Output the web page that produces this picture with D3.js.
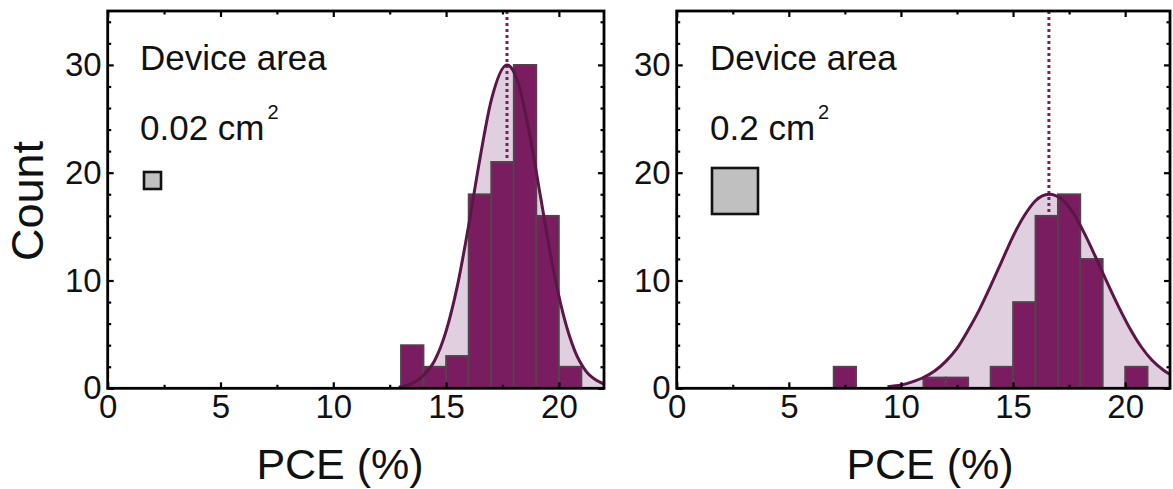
<!DOCTYPE html>
<html><head><meta charset="utf-8">
<script src="https://cdn.jsdelivr.net/npm/d3@7"></script>
<style>
body{margin:0;background:#fff}
svg{display:block;font-family:"Liberation Sans",Arial,sans-serif}
</style>
</head><body>
<svg id="chart" width="1173" height="489"></svg>
<script>
// Axis ticks
const xTicks = [0, 5, 10, 15, 20];
const xMinor = [2.5, 7.5, 12.5, 17.5];
const yTicks = [0, 10, 20, 30];
const yMinor = [2, 4, 6, 8, 12, 14, 16, 18, 22, 24, 26, 28, 32, 34];

// 0.02 cm2 devices: histogram (bin start, count) and normal fit
const binsA = [13, 14, 15, 16, 17, 18, 19, 20];
const countsA = [4, 2, 3, 18, 21, 30, 16, 2];
const fitXA = [12.9, 13.5, 14, 14.5, 15, 15.5, 16, 16.5, 17, 17.7, 18.2, 18.7, 19.2, 19.7, 20.2, 20.7, 21.2, 21.7, 22];
const fitYA = [0.1, 0.45, 1.2, 2.6, 5.3, 9.5, 15.1, 21.3, 26.7, 30, 28.3, 23.6, 17.6, 11.6, 6.8, 3.5, 1.6, 0.7, 0.4];
const peakA = 17.7;

// 0.2 cm2 devices
const binsB = [7, 11, 12, 14, 15, 16, 17, 18, 20];
const countsB = [2, 1, 1, 2, 8, 16, 18, 12, 2];
const fitXB = [9.4, 10, 10.5, 11, 11.5, 12, 12.5, 13, 13.5, 14, 14.5, 15, 15.5, 16, 16.6, 17.2, 17.7, 18.2, 18.7, 19.2, 19.7, 20.2, 20.7, 21.2, 21.7, 22];
const fitYB = [0.15, 0.3, 0.6, 1, 1.6, 2.5, 3.7, 5.4, 7.3, 9.5, 11.8, 14.1, 16, 17.4, 18, 17.5, 16.2, 14.3, 12.1, 9.8, 7.6, 5.6, 3.9, 2.6, 1.7, 1.3];
const peakB = 16.6;

const areaLabels = ["0.02 cm", "0.2 cm"];

const svg = d3.select("#chart");
const BAR = "#7a1d60", BAR_EDGE = "#54434f", FILL = "#dfcfdf", CURVE = "#5a1646";

const panels = [
  {left: 107.7, right: 604, bins: binsA, counts: countsA, fx: fitXA, fy: fitYA, peak: peakA,
   label: areaLabels[0], textX: 140, sq: {x: 144, y: 172, s: 17}, titleX: 340, yTitle: true},
  {left: 676.7, right: 1170, bins: binsB, counts: countsB, fx: fitXB, fy: fitYB, peak: peakB,
   label: areaLabels[1], textX: 710, sq: {x: 712, y: 168, s: 46}, titleX: 930, yTitle: false}
];

const plotTop = 11, plotBottom = 388.3;

panels.forEach((p, i) => {
  const x = d3.scaleLinear().domain([0, 22]).range([p.left, p.right]);
  const y = d3.scaleLinear().domain([0, 35]).range([plotBottom, plotTop]);
  const g = svg.append("g");

  const clipId = "clip" + i;
  svg.append("defs").append("clipPath").attr("id", clipId)
    .append("rect").attr("x", p.left).attr("y", plotTop).attr("width", p.right - p.left).attr("height", plotBottom - plotTop);

  const plot = g.append("g").attr("clip-path", `url(#${clipId})`);
  const pts = p.fx.map((v, k) => [v, p.fy[k]]);

  // shaded area under the fit
  plot.append("path").datum(pts)
    .attr("d", d3.area().x(d => x(d[0])).y0(y(0)).y1(d => y(d[1])).curve(d3.curveMonotoneX))
    .attr("fill", FILL);

  // dotted line at the fit peak
  plot.append("line")
    .attr("x1", x(p.peak)).attr("x2", x(p.peak)).attr("y1", y(35)).attr("y2", y(0))
    .attr("stroke", BAR).attr("stroke-width", 3).attr("stroke-dasharray", "3,3");

  // histogram bars
  plot.selectAll("rect.bar").data(p.bins.map((b, k) => [b, p.counts[k]])).join("rect")
    .attr("class", "bar")
    .attr("x", d => x(d[0])).attr("width", d => x(d[0] + 1) - x(d[0]))
    .attr("y", d => y(d[1])).attr("height", d => y(0) - y(d[1]))
    .attr("fill", BAR).attr("stroke", BAR_EDGE).attr("stroke-width", 1.8);

  // fit curve
  plot.append("path").datum(pts)
    .attr("d", d3.line().x(d => x(d[0])).y(d => y(d[1])).curve(d3.curveMonotoneX))
    .attr("fill", "none").attr("stroke", CURVE).attr("stroke-width", 3);

  // axes with inward ticks
  const styleAxis = sel => {
    sel.select(".domain").remove();
    sel.selectAll(".tick line").attr("stroke", "#000").attr("stroke-width", 2.2);
    sel.selectAll("text").attr("font-size", 33).attr("fill", "#111").attr("font-family", "Liberation Sans, Arial, sans-serif");
  };
  g.append("g").attr("transform", `translate(0,${plotBottom})`)
    .call(d3.axisBottom(x).tickValues(xTicks).tickSize(-6).tickPadding(6).tickFormat(d3.format("d"))).call(styleAxis);
  g.append("g").attr("transform", `translate(0,${plotBottom})`)
    .call(d3.axisBottom(x).tickValues(xMinor).tickSize(-3.5).tickFormat("")).call(styleAxis);
  g.append("g").attr("transform", `translate(0,${plotTop})`)
    .call(d3.axisTop(x).tickValues(xTicks).tickSize(-6).tickFormat("")).call(styleAxis);
  g.append("g").attr("transform", `translate(0,${plotTop})`)
    .call(d3.axisTop(x).tickValues(xMinor).tickSize(-3.5).tickFormat("")).call(styleAxis);
  g.append("g").attr("transform", `translate(${p.left},0)`)
    .call(d3.axisLeft(y).tickValues(yTicks).tickSize(-6).tickPadding(6)).call(styleAxis);
  g.append("g").attr("transform", `translate(${p.left},0)`)
    .call(d3.axisLeft(y).tickValues(yMinor).tickSize(-3.5).tickFormat("")).call(styleAxis);
  g.append("g").attr("transform", `translate(${p.right},0)`)
    .call(d3.axisRight(y).tickValues(yTicks).tickSize(-6).tickFormat("")).call(styleAxis);
  g.append("g").attr("transform", `translate(${p.right},0)`)
    .call(d3.axisRight(y).tickValues(yMinor).tickSize(-3.5).tickFormat("")).call(styleAxis);

  // frame
  g.append("rect").attr("x", p.left).attr("y", plotTop).attr("width", p.right - p.left).attr("height", plotBottom - plotTop)
    .attr("fill", "none").attr("stroke", "#000").attr("stroke-width", 2.8);

  // annotation
  g.append("text").attr("x", p.textX).attr("y", 70).attr("font-size", 35).attr("fill", "#111").text("Device area");
  const t = g.append("text").attr("x", p.textX).attr("y", 140).attr("font-size", 35).attr("fill", "#111");
  t.append("tspan").text(p.label);
  t.append("tspan").attr("font-size", 20).attr("dx", 3).attr("dy", -21).text("2");
  g.append("rect").attr("x", p.sq.x).attr("y", p.sq.y).attr("width", p.sq.s).attr("height", p.sq.s)
    .attr("fill", "#c0c0c0").attr("stroke", "#111").attr("stroke-width", 2.6);

  // axis titles
  g.append("text").attr("x", p.titleX).attr("y", 479).attr("text-anchor", "middle")
    .attr("font-size", 43).attr("fill", "#111").text("PCE (%)");
  if (p.yTitle) {
    g.append("text").attr("transform", "translate(43,201) rotate(-90)").attr("text-anchor", "middle")
      .attr("font-size", 45).attr("fill", "#111").text("Count");
  }
});
</script>
</body></html>
